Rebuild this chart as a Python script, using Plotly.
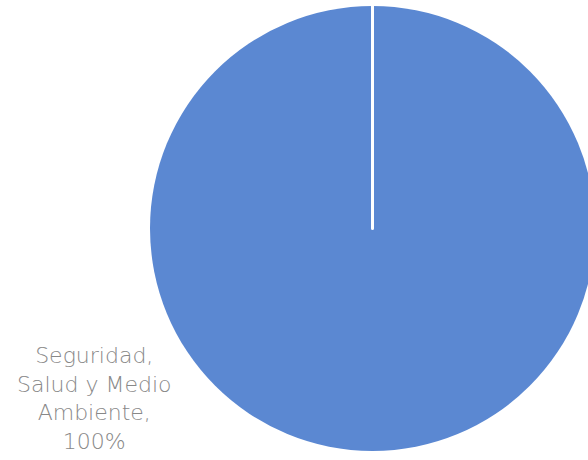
import plotly.graph_objects as go

labels = ["Seguridad, Salud y Medio Ambiente", ""]
values = [100, 0]
colors = ["#5B88D2", "#5B88D2"]

total = sum(values)
pct = round(values[0] / total * 100)

W, H = 600, 460

fig = go.Figure(go.Pie(
    labels=labels,
    values=values,
    marker=dict(colors=colors, line=dict(color="white", width=[0, 3])),
    textinfo="none",
    hoverinfo="label+percent",
    sort=False,
    direction="clockwise",
    rotation=0,
    showlegend=False,
    domain=dict(x=[150 / W, 595 / W], y=[(H - 451) / H, (H - 6) / H]),
))

fig.add_annotation(
    text="Seguridad,<br>Salud y Medio<br>Ambiente,<br>" + f"{pct}%",
    x=94 / W, y=1 - 398 / H, xref="paper", yref="paper",
    xanchor="center", yanchor="middle",
    showarrow=False, align="center",
    font=dict(family="DejaVu Sans, sans-serif", size=22, color="#888888", weight=300),
)

fig.update_layout(
    width=W, height=H,
    margin=dict(l=0, r=0, t=0, b=0),
    paper_bgcolor="white", plot_bgcolor="white",
)

fig.write_html(
    "out.html",
    config={"displayModeBar": False},
    post_script="document.body.style.margin='0';document.body.style.overflow='hidden';",
)
